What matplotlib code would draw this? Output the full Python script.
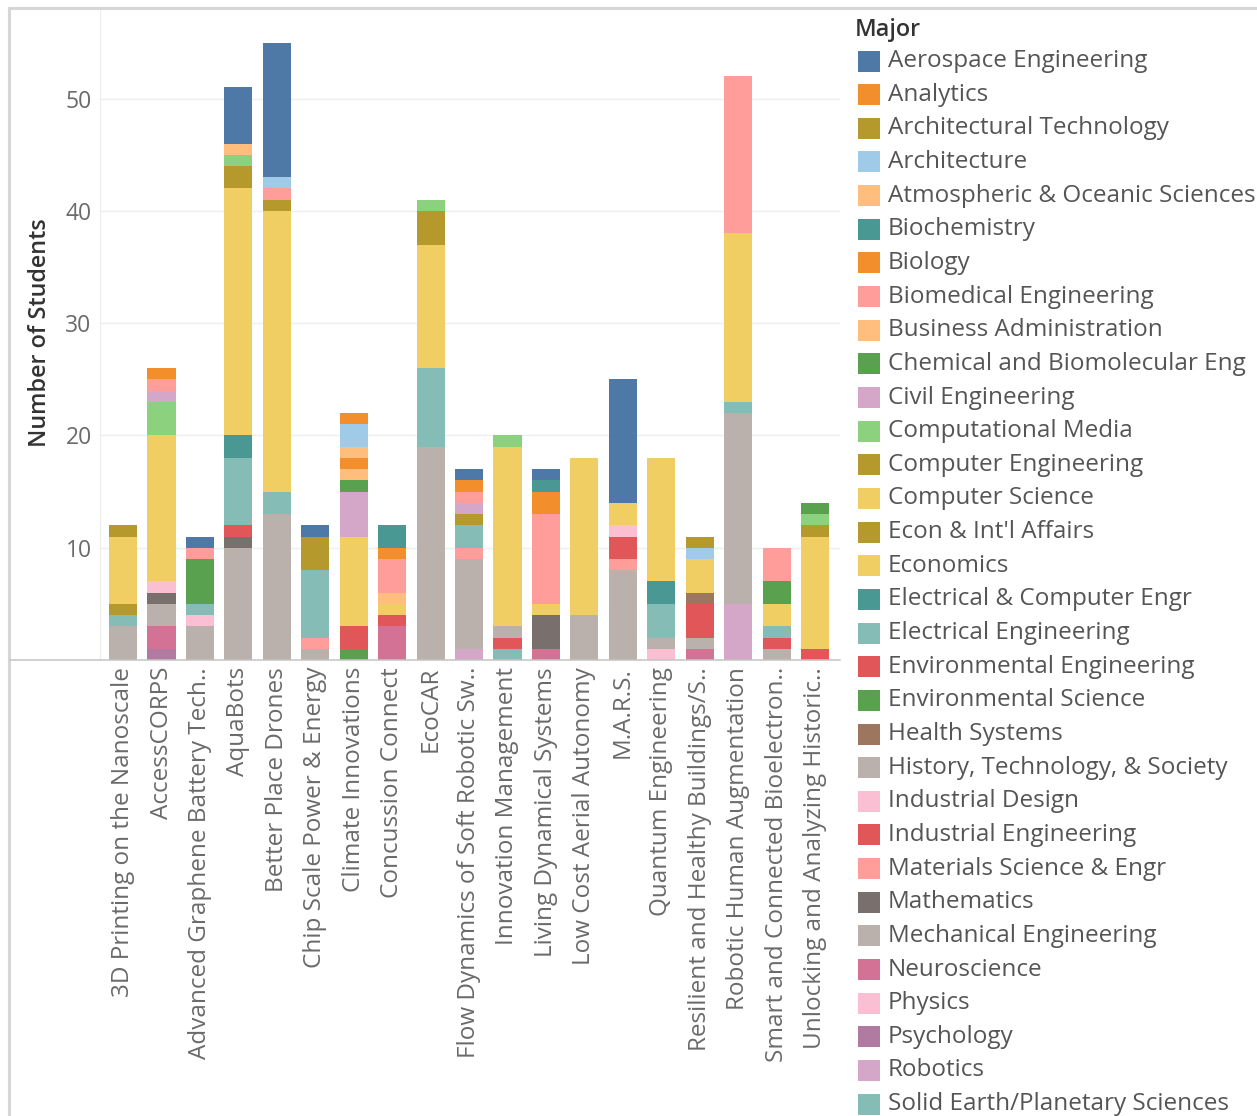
import matplotlib
matplotlib.use('Agg')
import matplotlib.pyplot as plt
from matplotlib.patches import Rectangle
from matplotlib.lines import Line2D
import numpy as np

projects = [
    '3D Printing on the Nanoscale', 'AccessCORPS', 'Advanced Graphene Battery Tech..',
    'AquaBots', 'Better Place Drones', 'Chip Scale Power & Energy', 'Climate Innovations',
    'Concussion Connect', 'EcoCAR', 'Flow Dynamics of Soft Robotic Sw..',
    'Innovation Management', 'Living Dynamical Systems', 'Low Cost Aerial Autonomy',
    'M.A.R.S.', 'Quantum Engineering', 'Resilient and Healthy Buildings/S..',
    'Robotic Human Augmentation', 'Smart and Connected Bioelectron..',
    'Unlocking and Analyzing Historic..',
]

majors = [
    'Aerospace Engineering', 'Analytics', 'Architectural Technology', 'Architecture',
    'Atmospheric & Oceanic Sciences', 'Biochemistry', 'Biology', 'Biomedical Engineering',
    'Business Administration', 'Chemical and Biomolecular Eng', 'Civil Engineering',
    'Computational Media', 'Computer Engineering', 'Computer Science',
    "Econ & Int'l Affairs", 'Economics', 'Electrical & Computer Engr',
    'Electrical Engineering', 'Environmental Engineering', 'Environmental Science',
    'Health Systems', 'History, Technology, & Society', 'Industrial Design',
    'Industrial Engineering', 'Materials Science & Engr', 'Mathematics',
    'Mechanical Engineering', 'Neuroscience', 'Physics', 'Psychology', 'Robotics',
    'Solid Earth/Planetary Sciences',
]

colors = [
    '#4e79a7', '#f28e2b', '#b6992d', '#a0cbe8', '#ffbe7d', '#499894', '#f28e2b', '#ff9d9a',
    '#ffbe7d', '#59a14f', '#d4a6c8', '#8cd17d', '#b6992d', '#f1ce63', '#b6992d', '#f1ce63',
    '#499894', '#86bcb6', '#e15759', '#59a14f', '#9d7660', '#bab0ac', '#fabfd2', '#e15759',
    '#ff9d9a', '#79706e', '#bab0ac', '#d37295', '#fabfd2', '#b07aa1', '#d4a6c8', '#86bcb6',
]

# students per project, one list per major (same order as projects)
aerospace    = [0, 0, 1, 5, 12, 1, 0, 0, 0, 1, 0, 1, 0, 11, 0, 0, 0, 0, 0]
analytics    = [0, 1, 0, 0, 0, 0, 1, 0, 0, 1, 0, 0, 0, 0, 0, 0, 0, 0, 0]
arch_tech    = [0, 0, 0, 0, 0, 0, 0, 0, 0, 0, 0, 0, 0, 0, 0, 1, 0, 0, 0]
architecture = [0, 0, 0, 0, 1, 0, 2, 0, 0, 0, 0, 0, 0, 0, 0, 1, 0, 0, 0]
atmospheric  = [0, 0, 0, 1, 0, 0, 1, 0, 0, 0, 0, 0, 0, 0, 0, 0, 0, 0, 0]
biochemistry = [0, 0, 0, 0, 0, 0, 0, 2, 0, 0, 0, 1, 0, 0, 0, 0, 0, 0, 0]
biology      = [0, 0, 0, 0, 0, 0, 1, 1, 0, 0, 0, 2, 0, 0, 0, 0, 0, 0, 0]
biomedical   = [0, 1, 1, 0, 1, 0, 0, 3, 0, 1, 0, 8, 0, 0, 0, 0, 14, 3, 0]
business     = [0, 0, 0, 0, 0, 0, 1, 1, 0, 0, 0, 0, 0, 0, 0, 0, 0, 0, 0]
chemical     = [0, 0, 4, 0, 0, 0, 1, 0, 0, 0, 0, 0, 0, 0, 0, 0, 0, 2, 1]
civil        = [0, 1, 0, 0, 0, 0, 4, 0, 0, 1, 0, 0, 0, 0, 0, 0, 0, 0, 0]
comp_media   = [0, 3, 0, 1, 0, 0, 0, 0, 1, 0, 1, 0, 0, 0, 0, 0, 0, 0, 1]
comp_eng     = [1, 0, 0, 2, 1, 3, 0, 0, 3, 1, 0, 0, 0, 0, 0, 0, 0, 0, 1]
comp_sci     = [6, 13, 0, 22, 25, 0, 8, 1, 11, 0, 16, 1, 14, 2, 11, 3, 15, 2, 10]
econ_intl    = [1, 0, 0, 0, 0, 0, 0, 0, 0, 0, 0, 0, 0, 0, 0, 0, 0, 0, 0]
economics    = [0, 0, 0, 0, 0, 0, 0, 0, 0, 0, 0, 0, 0, 0, 0, 0, 0, 0, 0]
ece          = [0, 0, 0, 2, 0, 0, 0, 0, 0, 0, 0, 0, 0, 0, 2, 0, 0, 0, 0]
elec_eng     = [1, 0, 1, 6, 2, 6, 0, 0, 7, 2, 0, 0, 0, 0, 3, 0, 1, 1, 0]
env_eng      = [0, 0, 0, 1, 0, 0, 2, 0, 0, 0, 0, 0, 0, 0, 0, 0, 0, 0, 0]
env_sci      = [0, 0, 0, 0, 0, 0, 1, 0, 0, 0, 0, 0, 0, 0, 0, 0, 0, 0, 0]
health       = [0, 0, 0, 0, 0, 0, 0, 0, 0, 0, 0, 0, 0, 0, 0, 1, 0, 0, 0]
hts          = [0, 0, 0, 0, 0, 0, 0, 0, 0, 0, 1, 0, 0, 0, 0, 0, 0, 0, 0]
ind_design   = [0, 1, 1, 0, 0, 0, 0, 0, 0, 0, 0, 0, 0, 1, 0, 0, 0, 0, 0]
ind_eng      = [0, 0, 0, 0, 0, 0, 0, 1, 0, 0, 1, 0, 0, 2, 0, 3, 0, 1, 1]
materials    = [0, 0, 0, 0, 0, 1, 0, 0, 0, 1, 0, 0, 0, 1, 0, 0, 0, 0, 0]
mathematics  = [0, 1, 0, 1, 0, 0, 0, 0, 0, 0, 0, 3, 0, 0, 0, 0, 0, 0, 0]
mech_eng     = [3, 2, 3, 10, 13, 1, 0, 0, 19, 8, 0, 0, 4, 8, 1, 1, 17, 1, 0]
neuro        = [0, 2, 0, 0, 0, 0, 0, 3, 0, 0, 0, 1, 0, 0, 0, 1, 0, 0, 0]
physics      = [0, 0, 0, 0, 0, 0, 0, 0, 0, 0, 0, 0, 0, 0, 1, 0, 0, 0, 0]
psychology   = [0, 1, 0, 0, 0, 0, 0, 0, 0, 0, 0, 0, 0, 0, 0, 0, 0, 0, 0]
robotics     = [0, 0, 0, 0, 0, 0, 0, 0, 0, 1, 0, 0, 0, 0, 0, 0, 5, 0, 0]
solid_earth  = [0, 0, 0, 0, 0, 0, 0, 0, 0, 0, 1, 0, 0, 0, 0, 0, 0, 0, 0]

series = [aerospace, analytics, arch_tech, architecture, atmospheric, biochemistry,
          biology, biomedical, business, chemical, civil, comp_media, comp_eng, comp_sci,
          econ_intl, economics, ece, elec_eng, env_eng, env_sci, health, hts, ind_design,
          ind_eng, materials, mathematics, mech_eng, neuro, physics, psychology, robotics,
          solid_earth]

plt.rcParams['font.family'] = ['Open Sans', 'DejaVu Sans']

W, H = 1257, 1116
fig = plt.figure(figsize=(W / 100, H / 100), dpi=100)
fig.patch.set_facecolor('white')


def fx(px):
    return px / W


def fy(py):
    return 1 - py / H


ax = fig.add_axes([fx(100), fy(660), fx(740), 650 / H])

# stack from the last major up, so the first major ends on top
x = np.arange(len(projects))
bottom = np.zeros(len(projects))
for vals, col in reversed(list(zip(series, colors))):
    vals = np.array(vals, dtype=float)
    ax.bar(x, vals, 0.73, bottom=bottom, color=col, linewidth=0, zorder=3)
    bottom += vals

ax.set_xlim(-0.6, 18.65)
ax.set_ylim(0, 57.9)
ax.set_yticks([10, 20, 30, 40, 50])
ax.yaxis.grid(True, color='#efefef', linewidth=1, zorder=0)
ax.set_xticks(x)
ax.set_xticklabels(projects, rotation=90, ha='center', va='top')
ax.tick_params(axis='both', length=0, labelcolor='#6a6a6a')
ax.tick_params(axis='x', pad=5, labelsize=17.5)
ax.tick_params(axis='y', pad=6, labelsize=16.5)
for s in ax.spines.values():
    s.set_visible(False)

fig.text(fx(40), fy(333), 'Number of Students', rotation=90, ha='center', va='center',
         fontsize=16.8, color='#333333', fontweight='semibold')

# frame lines around the view
fig.add_artist(Line2D([fx(9), 1], [fy(8), fy(8)], color='#d6d6d6', linewidth=2.2))
fig.add_artist(Line2D([fx(9), fx(9)], [fy(8), 0], color='#d6d6d6', linewidth=2.2))
fig.add_artist(Line2D([fx(100), fx(100)], [fy(10), fy(660)], color='#ececec', linewidth=0.8))
fig.add_artist(Line2D([fx(10), fx(840)], [fy(660), fy(660)], color='#c4c4c4', linewidth=1.1))

# legend
fig.text(fx(855), fy(30), 'Major', ha='left', va='center', fontsize=16.8,
         color='#333333', fontweight='semibold')
row0, pitch = 61, 33.65
for i, (name, col) in enumerate(zip(majors, colors)):
    cy = row0 + pitch * i
    fig.add_artist(Rectangle((fx(858), fy(cy + 10.5)), 22 / W, 21 / H,
                             facecolor=col, edgecolor='none', transform=fig.transFigure))
    fig.text(fx(888), fy(cy), name, ha='left', va='center', fontsize=17.5, color='#555555')

fig.savefig('out.png', dpi=100)
